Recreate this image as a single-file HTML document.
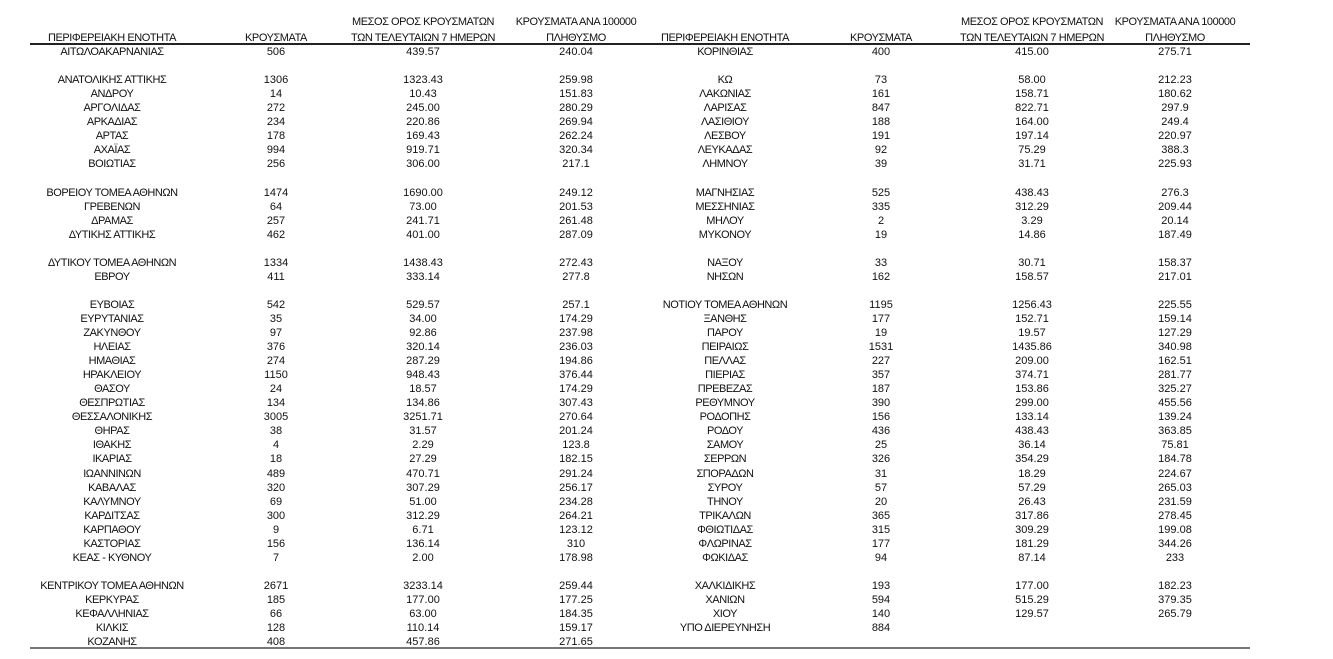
<!DOCTYPE html>
<html><head><meta charset="utf-8"><style>
body{margin:0;width:1333px;height:659px;background:#fff;position:relative;overflow:hidden;font-family:"Liberation Sans","DejaVu Sans",sans-serif;color:#111;}
.r{position:absolute;left:0;width:1333px;height:14px;line-height:14px;font-size:11px;letter-spacing:-0.45px;margin-top:1px;}
.r span{position:absolute;width:240px;text-align:center;white-space:nowrap;top:0;}
.n{font-size:11px;letter-spacing:0;}
.a{left:-8px}.b{left:156px}.c{left:303px}.d{left:456px}
.e{left:605px}.f{left:761px}.g{left:912px}.h{left:1055px}
.line{position:absolute;left:30px;width:1220px;height:2px;}
</style></head><body>
<div class="r" style="top:14px"><span class="c">ΜΕΣΟΣ ΟΡΟΣ ΚΡΟΥΣΜΑΤΩΝ</span><span class="d">ΚΡΟΥΣΜΑΤΑ ΑΝΑ 100000</span><span class="g">ΜΕΣΟΣ ΟΡΟΣ ΚΡΟΥΣΜΑΤΩΝ</span><span class="h">ΚΡΟΥΣΜΑΤΑ ΑΝΑ 100000</span></div>
<div class="r" style="top:30px"><span class="a">ΠΕΡΙΦΕΡΕΙΑΚΗ ΕΝΟΤΗΤΑ</span><span class="b">ΚΡΟΥΣΜΑΤΑ</span><span class="c">ΤΩΝ ΤΕΛΕΥΤΑΙΩΝ 7 ΗΜΕΡΩΝ</span><span class="d">ΠΛΗΘΥΣΜΟ</span><span class="e">ΠΕΡΙΦΕΡΕΙΑΚΗ ΕΝΟΤΗΤΑ</span><span class="f">ΚΡΟΥΣΜΑΤΑ</span><span class="g">ΤΩΝ ΤΕΛΕΥΤΑΙΩΝ 7 ΗΜΕΡΩΝ</span><span class="h">ΠΛΗΘΥΣΜΟ</span></div>
<div class="line" style="top:43px;background:#222"></div>
<div class="line" style="top:647px;background:#777"></div>

<div class="r" style="top:44px"><span class="a">ΑΙΤΩΛΟΑΚΑΡΝΑΝΙΑΣ</span><span class="b n">506</span><span class="c n">439.57</span><span class="d n">240.04</span><span class="e">ΚΟΡΙΝΘΙΑΣ</span><span class="f n">400</span><span class="g n">415.00</span><span class="h n">275.71</span></div>
<div class="r" style="top:72.1px"><span class="a">ΑΝΑΤΟΛΙΚΗΣ ΑΤΤΙΚΗΣ</span><span class="b n">1306</span><span class="c n">1323.43</span><span class="d n">259.98</span><span class="e">ΚΩ</span><span class="f n">73</span><span class="g n">58.00</span><span class="h n">212.23</span></div>
<div class="r" style="top:86.15px"><span class="a">ΑΝΔΡΟΥ</span><span class="b n">14</span><span class="c n">10.43</span><span class="d n">151.83</span><span class="e">ΛΑΚΩΝΙΑΣ</span><span class="f n">161</span><span class="g n">158.71</span><span class="h n">180.62</span></div>
<div class="r" style="top:100.2px"><span class="a">ΑΡΓΟΛΙΔΑΣ</span><span class="b n">272</span><span class="c n">245.00</span><span class="d n">280.29</span><span class="e">ΛΑΡΙΣΑΣ</span><span class="f n">847</span><span class="g n">822.71</span><span class="h n">297.9</span></div>
<div class="r" style="top:114.25px"><span class="a">ΑΡΚΑΔΙΑΣ</span><span class="b n">234</span><span class="c n">220.86</span><span class="d n">269.94</span><span class="e">ΛΑΣΙΘΙΟΥ</span><span class="f n">188</span><span class="g n">164.00</span><span class="h n">249.4</span></div>
<div class="r" style="top:128.3px"><span class="a">ΑΡΤΑΣ</span><span class="b n">178</span><span class="c n">169.43</span><span class="d n">262.24</span><span class="e">ΛΕΣΒΟΥ</span><span class="f n">191</span><span class="g n">197.14</span><span class="h n">220.97</span></div>
<div class="r" style="top:142.35px"><span class="a">ΑΧΑΪΑΣ</span><span class="b n">994</span><span class="c n">919.71</span><span class="d n">320.34</span><span class="e">ΛΕΥΚΑΔΑΣ</span><span class="f n">92</span><span class="g n">75.29</span><span class="h n">388.3</span></div>
<div class="r" style="top:156.4px"><span class="a">ΒΟΙΩΤΙΑΣ</span><span class="b n">256</span><span class="c n">306.00</span><span class="d n">217.1</span><span class="e">ΛΗΜΝΟΥ</span><span class="f n">39</span><span class="g n">31.71</span><span class="h n">225.93</span></div>
<div class="r" style="top:184.5px"><span class="a">ΒΟΡΕΙΟΥ ΤΟΜΕΑ ΑΘΗΝΩΝ</span><span class="b n">1474</span><span class="c n">1690.00</span><span class="d n">249.12</span><span class="e">ΜΑΓΝΗΣΙΑΣ</span><span class="f n">525</span><span class="g n">438.43</span><span class="h n">276.3</span></div>
<div class="r" style="top:198.55px"><span class="a">ΓΡΕΒΕΝΩΝ</span><span class="b n">64</span><span class="c n">73.00</span><span class="d n">201.53</span><span class="e">ΜΕΣΣΗΝΙΑΣ</span><span class="f n">335</span><span class="g n">312.29</span><span class="h n">209.44</span></div>
<div class="r" style="top:212.6px"><span class="a">ΔΡΑΜΑΣ</span><span class="b n">257</span><span class="c n">241.71</span><span class="d n">261.48</span><span class="e">ΜΗΛΟΥ</span><span class="f n">2</span><span class="g n">3.29</span><span class="h n">20.14</span></div>
<div class="r" style="top:226.65px"><span class="a">ΔΥΤΙΚΗΣ ΑΤΤΙΚΗΣ</span><span class="b n">462</span><span class="c n">401.00</span><span class="d n">287.09</span><span class="e">ΜΥΚΟΝΟΥ</span><span class="f n">19</span><span class="g n">14.86</span><span class="h n">187.49</span></div>
<div class="r" style="top:254.75px"><span class="a">ΔΥΤΙΚΟΥ ΤΟΜΕΑ ΑΘΗΝΩΝ</span><span class="b n">1334</span><span class="c n">1438.43</span><span class="d n">272.43</span><span class="e">ΝΑΞΟΥ</span><span class="f n">33</span><span class="g n">30.71</span><span class="h n">158.37</span></div>
<div class="r" style="top:268.8px"><span class="a">ΕΒΡΟΥ</span><span class="b n">411</span><span class="c n">333.14</span><span class="d n">277.8</span><span class="e">ΝΗΣΩΝ</span><span class="f n">162</span><span class="g n">158.57</span><span class="h n">217.01</span></div>
<div class="r" style="top:296.9px"><span class="a">ΕΥΒΟΙΑΣ</span><span class="b n">542</span><span class="c n">529.57</span><span class="d n">257.1</span><span class="e">ΝΟΤΙΟΥ ΤΟΜΕΑ ΑΘΗΝΩΝ</span><span class="f n">1195</span><span class="g n">1256.43</span><span class="h n">225.55</span></div>
<div class="r" style="top:310.95px"><span class="a">ΕΥΡΥΤΑΝΙΑΣ</span><span class="b n">35</span><span class="c n">34.00</span><span class="d n">174.29</span><span class="e">ΞΑΝΘΗΣ</span><span class="f n">177</span><span class="g n">152.71</span><span class="h n">159.14</span></div>
<div class="r" style="top:325px"><span class="a">ΖΑΚΥΝΘΟΥ</span><span class="b n">97</span><span class="c n">92.86</span><span class="d n">237.98</span><span class="e">ΠΑΡΟΥ</span><span class="f n">19</span><span class="g n">19.57</span><span class="h n">127.29</span></div>
<div class="r" style="top:339.05px"><span class="a">ΗΛΕΙΑΣ</span><span class="b n">376</span><span class="c n">320.14</span><span class="d n">236.03</span><span class="e">ΠΕΙΡΑΙΩΣ</span><span class="f n">1531</span><span class="g n">1435.86</span><span class="h n">340.98</span></div>
<div class="r" style="top:353.1px"><span class="a">ΗΜΑΘΙΑΣ</span><span class="b n">274</span><span class="c n">287.29</span><span class="d n">194.86</span><span class="e">ΠΕΛΛΑΣ</span><span class="f n">227</span><span class="g n">209.00</span><span class="h n">162.51</span></div>
<div class="r" style="top:367.15px"><span class="a">ΗΡΑΚΛΕΙΟΥ</span><span class="b n">1150</span><span class="c n">948.43</span><span class="d n">376.44</span><span class="e">ΠΙΕΡΙΑΣ</span><span class="f n">357</span><span class="g n">374.71</span><span class="h n">281.77</span></div>
<div class="r" style="top:381.2px"><span class="a">ΘΑΣΟΥ</span><span class="b n">24</span><span class="c n">18.57</span><span class="d n">174.29</span><span class="e">ΠΡΕΒΕΖΑΣ</span><span class="f n">187</span><span class="g n">153.86</span><span class="h n">325.27</span></div>
<div class="r" style="top:395.25px"><span class="a">ΘΕΣΠΡΩΤΙΑΣ</span><span class="b n">134</span><span class="c n">134.86</span><span class="d n">307.43</span><span class="e">ΡΕΘΥΜΝΟΥ</span><span class="f n">390</span><span class="g n">299.00</span><span class="h n">455.56</span></div>
<div class="r" style="top:409.3px"><span class="a">ΘΕΣΣΑΛΟΝΙΚΗΣ</span><span class="b n">3005</span><span class="c n">3251.71</span><span class="d n">270.64</span><span class="e">ΡΟΔΟΠΗΣ</span><span class="f n">156</span><span class="g n">133.14</span><span class="h n">139.24</span></div>
<div class="r" style="top:423.35px"><span class="a">ΘΗΡΑΣ</span><span class="b n">38</span><span class="c n">31.57</span><span class="d n">201.24</span><span class="e">ΡΟΔΟΥ</span><span class="f n">436</span><span class="g n">438.43</span><span class="h n">363.85</span></div>
<div class="r" style="top:437.4px"><span class="a">ΙΘΑΚΗΣ</span><span class="b n">4</span><span class="c n">2.29</span><span class="d n">123.8</span><span class="e">ΣΑΜΟΥ</span><span class="f n">25</span><span class="g n">36.14</span><span class="h n">75.81</span></div>
<div class="r" style="top:451.45px"><span class="a">ΙΚΑΡΙΑΣ</span><span class="b n">18</span><span class="c n">27.29</span><span class="d n">182.15</span><span class="e">ΣΕΡΡΩΝ</span><span class="f n">326</span><span class="g n">354.29</span><span class="h n">184.78</span></div>
<div class="r" style="top:465.5px"><span class="a">ΙΩΑΝΝΙΝΩΝ</span><span class="b n">489</span><span class="c n">470.71</span><span class="d n">291.24</span><span class="e">ΣΠΟΡΑΔΩΝ</span><span class="f n">31</span><span class="g n">18.29</span><span class="h n">224.67</span></div>
<div class="r" style="top:479.55px"><span class="a">ΚΑΒΑΛΑΣ</span><span class="b n">320</span><span class="c n">307.29</span><span class="d n">256.17</span><span class="e">ΣΥΡΟΥ</span><span class="f n">57</span><span class="g n">57.29</span><span class="h n">265.03</span></div>
<div class="r" style="top:493.6px"><span class="a">ΚΑΛΥΜΝΟΥ</span><span class="b n">69</span><span class="c n">51.00</span><span class="d n">234.28</span><span class="e">ΤΗΝΟΥ</span><span class="f n">20</span><span class="g n">26.43</span><span class="h n">231.59</span></div>
<div class="r" style="top:507.65px"><span class="a">ΚΑΡΔΙΤΣΑΣ</span><span class="b n">300</span><span class="c n">312.29</span><span class="d n">264.21</span><span class="e">ΤΡΙΚΑΛΩΝ</span><span class="f n">365</span><span class="g n">317.86</span><span class="h n">278.45</span></div>
<div class="r" style="top:521.7px"><span class="a">ΚΑΡΠΑΘΟΥ</span><span class="b n">9</span><span class="c n">6.71</span><span class="d n">123.12</span><span class="e">ΦΘΙΩΤΙΔΑΣ</span><span class="f n">315</span><span class="g n">309.29</span><span class="h n">199.08</span></div>
<div class="r" style="top:535.75px"><span class="a">ΚΑΣΤΟΡΙΑΣ</span><span class="b n">156</span><span class="c n">136.14</span><span class="d n">310</span><span class="e">ΦΛΩΡΙΝΑΣ</span><span class="f n">177</span><span class="g n">181.29</span><span class="h n">344.26</span></div>
<div class="r" style="top:549.8px"><span class="a">ΚΕΑΣ - ΚΥΘΝΟΥ</span><span class="b n">7</span><span class="c n">2.00</span><span class="d n">178.98</span><span class="e">ΦΩΚΙΔΑΣ</span><span class="f n">94</span><span class="g n">87.14</span><span class="h n">233</span></div>
<div class="r" style="top:577.9px"><span class="a">ΚΕΝΤΡΙΚΟΥ ΤΟΜΕΑ ΑΘΗΝΩΝ</span><span class="b n">2671</span><span class="c n">3233.14</span><span class="d n">259.44</span><span class="e">ΧΑΛΚΙΔΙΚΗΣ</span><span class="f n">193</span><span class="g n">177.00</span><span class="h n">182.23</span></div>
<div class="r" style="top:591.95px"><span class="a">ΚΕΡΚΥΡΑΣ</span><span class="b n">185</span><span class="c n">177.00</span><span class="d n">177.25</span><span class="e">ΧΑΝΙΩΝ</span><span class="f n">594</span><span class="g n">515.29</span><span class="h n">379.35</span></div>
<div class="r" style="top:606px"><span class="a">ΚΕΦΑΛΛΗΝΙΑΣ</span><span class="b n">66</span><span class="c n">63.00</span><span class="d n">184.35</span><span class="e">ΧΙΟΥ</span><span class="f n">140</span><span class="g n">129.57</span><span class="h n">265.79</span></div>
<div class="r" style="top:620.05px"><span class="a">ΚΙΛΚΙΣ</span><span class="b n">128</span><span class="c n">110.14</span><span class="d n">159.17</span><span class="e">ΥΠΟ ΔΙΕΡΕΥΝΗΣΗ</span><span class="f n">884</span></div>
<div class="r" style="top:634.1px"><span class="a">ΚΟΖΑΝΗΣ</span><span class="b n">408</span><span class="c n">457.86</span><span class="d n">271.65</span></div>
</body></html>
